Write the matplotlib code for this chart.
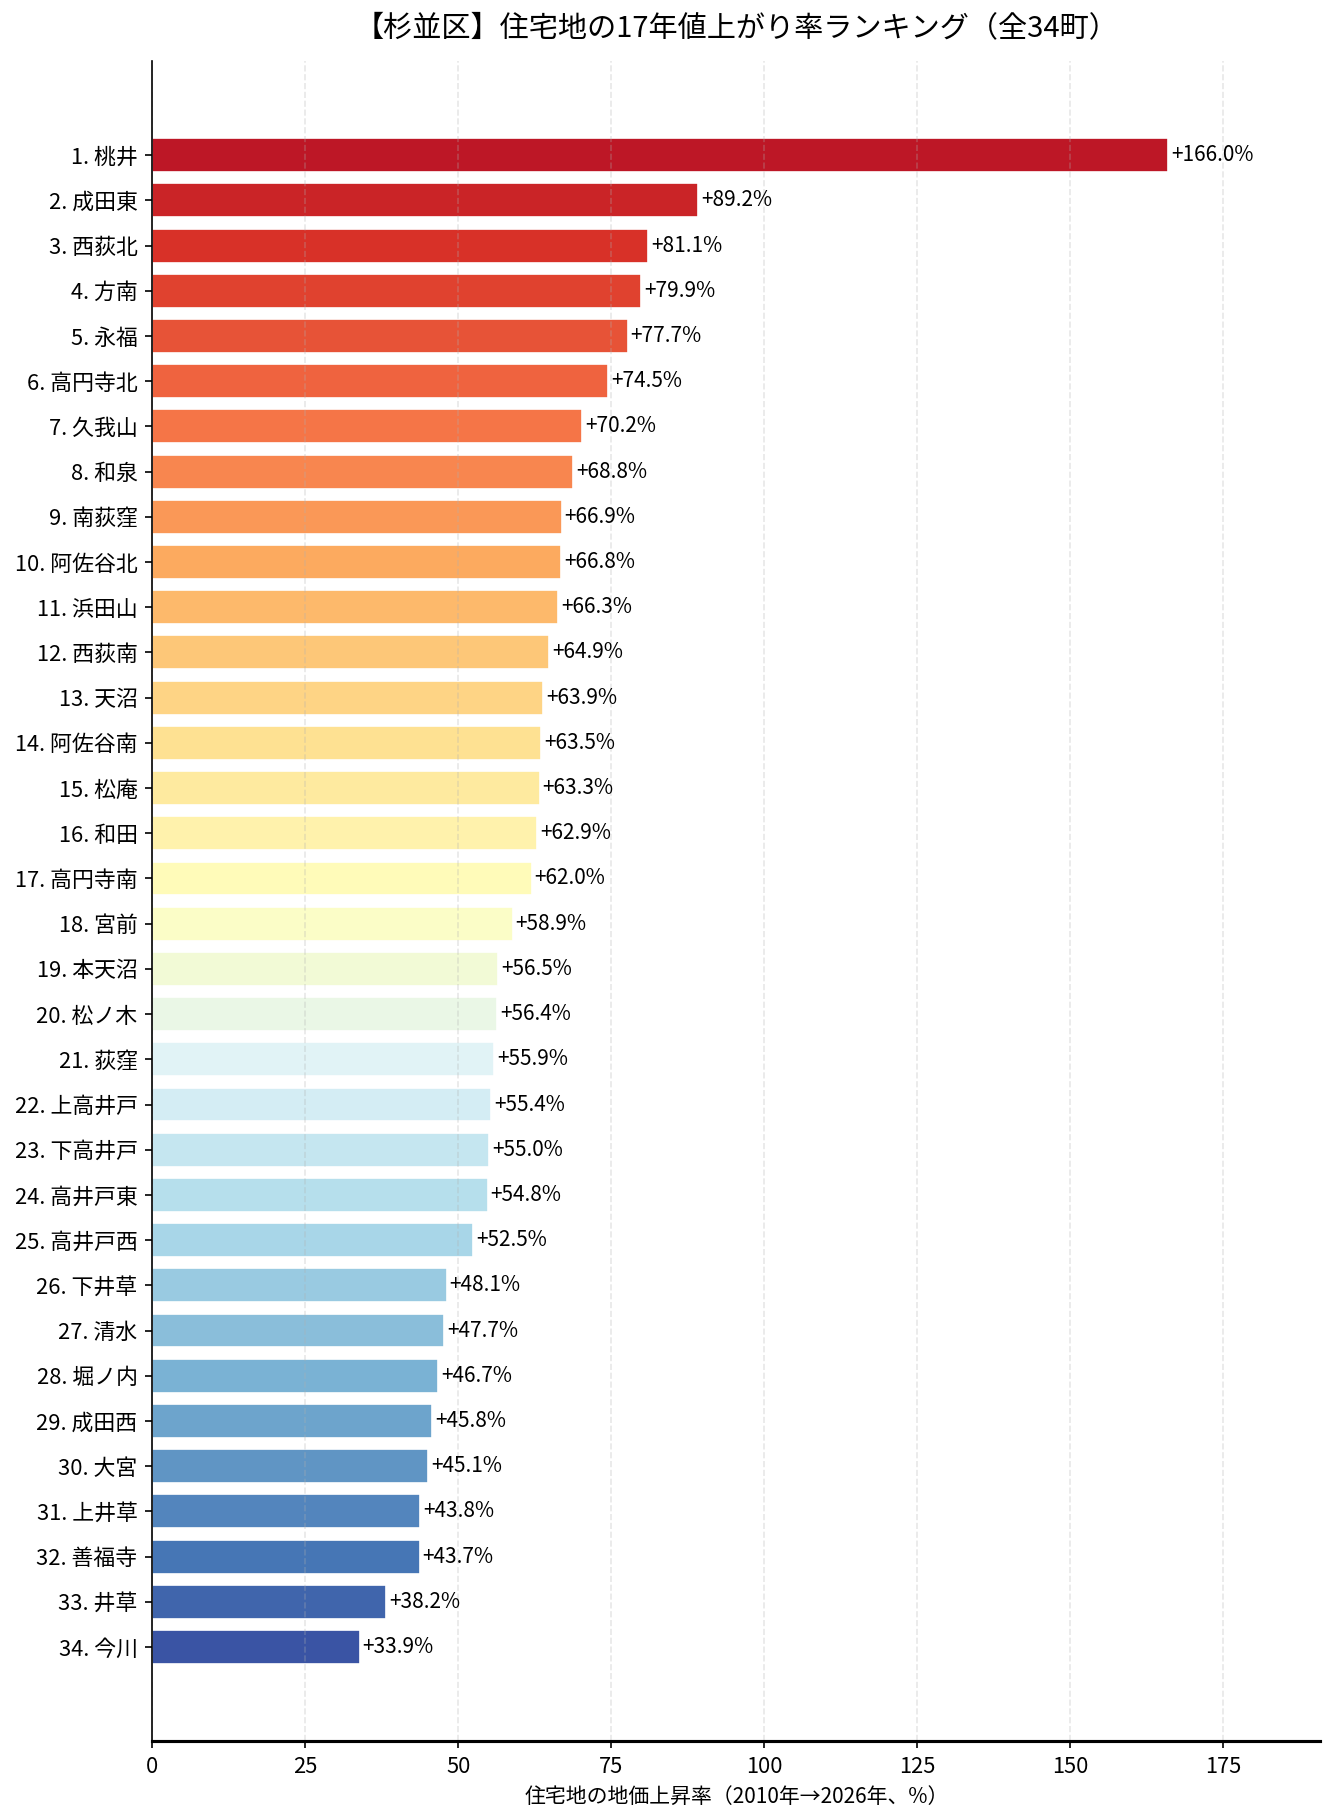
import matplotlib as mpl; mpl.use('Agg')
import matplotlib.pyplot as plt
import numpy as np

plt.rcParams['font.family'] = ['Noto Sans CJK JP', 'DejaVu Sans']

# 町名と上昇率（%）ランキング順
towns = ["桃井", "成田東", "西荻北", "方南", "永福", "高円寺北", "久我山", "和泉",
         "南荻窪", "阿佐谷北", "浜田山", "西荻南", "天沼", "阿佐谷南", "松庵", "和田",
         "高円寺南", "宮前", "本天沼", "松ノ木", "荻窪", "上高井戸", "下高井戸", "高井戸東",
         "高井戸西", "下井草", "清水", "堀ノ内", "成田西", "大宮", "上井草", "善福寺",
         "井草", "今川"]
rates = [166.0, 89.2, 81.1, 79.9, 77.7, 74.5, 70.2, 68.8,
         66.9, 66.8, 66.3, 64.9, 63.9, 63.5, 63.3, 62.9,
         62.0, 58.9, 56.5, 56.4, 55.9, 55.4, 55.0, 54.8,
         52.5, 48.1, 47.7, 46.7, 45.8, 45.1, 43.8, 43.7,
         38.2, 33.9]

labels = [f"{i+1}. {t}" for i, t in enumerate(towns)]
y = np.arange(len(towns))
colors = plt.cm.RdYlBu(np.linspace(0.05, 0.95, len(towns)))

fig = plt.figure(figsize=(1335/150, 1820/150), dpi=150)
ax = fig.add_axes([0.114, 0.0434, 0.875, 0.923])

ax.barh(y, rates, height=0.75, color=colors, edgecolor='white', linewidth=0.8)
for yi, v in zip(y, rates):
    ax.text(v + 0.5, yi, f"+{v:.1f}%", va='center', ha='left', fontsize=10)

ax.set_yticks(y)
ax.set_yticklabels(labels, fontsize=10.5)
ax.set_ylim(len(towns) - 1 + 2.08, -2.08)
ax.set_xlim(0, max(rates) * 1.15)
ax.tick_params(axis='x', labelsize=10.5)

ax.grid(axis='x', linestyle='--', alpha=0.3)
ax.spines['top'].set_visible(False)
ax.spines['right'].set_visible(False)
ax.spines['bottom'].set_linewidth(1.5)

ax.set_xlabel("住宅地の地価上昇率（2010年→2026年、%）", fontsize=10)
ax.set_title("【杉並区】住宅地の17年値上がり率ランキング（全34町）", fontsize=14, pad=12)

fig.savefig("out.png", dpi=150)
